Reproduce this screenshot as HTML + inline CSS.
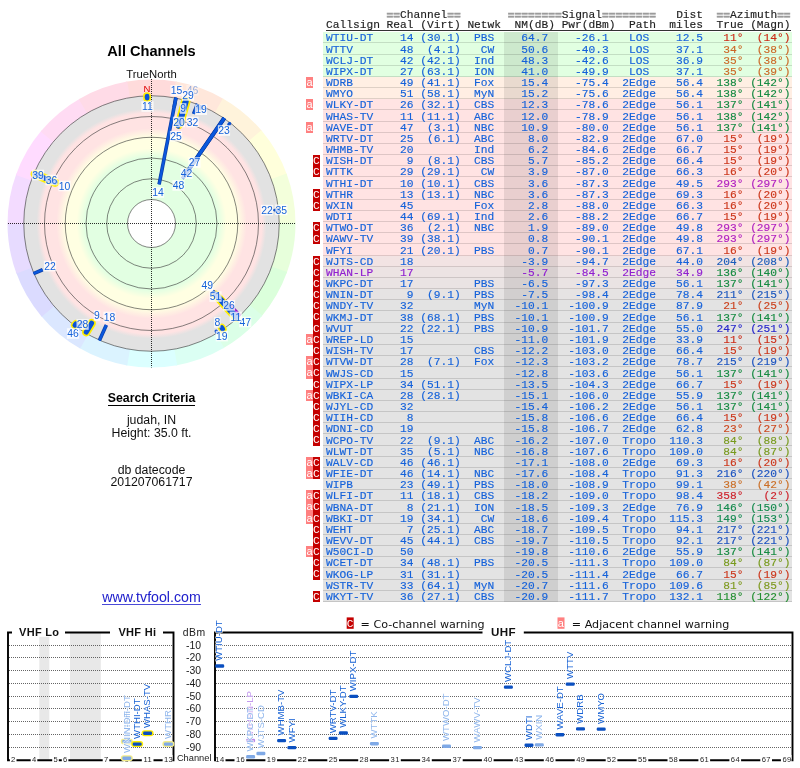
<!DOCTYPE html>
<html lang="en"><head><meta charset="utf-8"><title>TV Fool - All Channels</title>
<style>
html,body{margin:0;padding:0;background:#fff}
body{width:800px;height:768px;position:relative;overflow:hidden;font-family:'Liberation Sans','DejaVu Sans',sans-serif;color:#000}
.abs{position:absolute;white-space:pre;line-height:1}
.c{position:absolute;white-space:pre;line-height:1;text-align:center;left:51.5px;width:200px}
#tbl{position:absolute;left:0;top:0;width:800px;height:610px;font:11.225px/1 'Liberation Mono','DejaVu Sans Mono',monospace;color:#1562da}
#tbl div{position:absolute;white-space:pre;-webkit-text-stroke:0.15px currentColor}
#tbl .r{left:323px;width:469.3px;box-sizing:border-box;border-bottom:1px solid rgba(0,0,0,.13)}
#tbl .t{left:326px;height:12px;line-height:12px}
#tbl .h{left:326px;height:12px;line-height:12px;color:#222}
#tbl .h i{font-style:normal;font-weight:bold;color:#9c9c9c;position:relative;top:1px;-webkit-text-stroke:0.55px #9c9c9c}
#tbl .wa,#tbl .wc{width:6.8px;line-height:12.5px;color:#fff;text-align:center;-webkit-text-stroke:0}
#tbl .wa{left:306.1px;background:#ff8080}
#tbl .wc{left:312.9px;background:#c40000}
#tbl .p{color:#9020d0}
svg{position:absolute;left:0;top:0}
svg text{white-space:pre}
</style></head><body>
<div class="c" style="top:43.5px;font:bold 14.6px/1 'Liberation Sans','DejaVu Sans',sans-serif">All Channels</div>
<div class="c" style="top:69.3px;font:11.3px/1 'Liberation Sans','DejaVu Sans',sans-serif;color:#111">TrueNorth</div>
<div class="c" style="top:392px;font:bold 12.3px/1 'Liberation Sans','DejaVu Sans',sans-serif"><span style="display:inline-block;border-bottom:1.4px solid #000;padding-bottom:1px;line-height:12px">Search Criteria</span></div>
<div class="c" style="top:413.5px;font:12.3px/1 'Liberation Sans','DejaVu Sans',sans-serif;color:#111">judah, IN</div>
<div class="c" style="top:427px;font:12.3px/1 'Liberation Sans','DejaVu Sans',sans-serif;color:#111">Height: 35.0 ft.</div>
<div class="c" style="top:464px;font:12.3px/1 'Liberation Sans','DejaVu Sans',sans-serif;color:#111">db datecode</div>
<div class="c" style="top:476px;font:12.3px/1 'Liberation Sans','DejaVu Sans',sans-serif;color:#111">201207061717</div>
<div class="c" style="top:590px;font:14.2px/1 'Liberation Sans','DejaVu Sans',sans-serif;color:#2020cc"><span style="display:inline-block;border-bottom:1px solid #4a4ad8;padding-bottom:0;line-height:14px">www.tvfool.com</span></div>
<svg width="800" height="768" viewBox="0 0 800 768" font-family="'Liberation Sans','DejaVu Sans',sans-serif">
<defs>
<radialGradient id="zg" gradientUnits="userSpaceOnUse" cx="151.5" cy="223.5" r="127.75">
<stop offset="0.0000" stop-color="#e2ffe2"/>
<stop offset="0.5205" stop-color="#e2ffe2"/>
<stop offset="0.5871" stop-color="#ffffe2"/>
<stop offset="0.6732" stop-color="#ffffe2"/>
<stop offset="0.7452" stop-color="#ffe3e3"/>
<stop offset="0.8642" stop-color="#ffe3e3"/>
<stop offset="0.9002" stop-color="#e2e2e2"/>
<stop offset="1.0000" stop-color="#e2e2e2"/>
</radialGradient>
</defs>
<g id="huering">
<path d="M125.75 81.82A144 144 0 0 1 177.25 81.82L174.16 98.79A126.75 126.75 0 0 0 128.84 98.79Z" fill="#ffdbdb"/>
<path d="M175.76 81.56A144 144 0 0 1 224.15 99.17L215.45 114.06A126.75 126.75 0 0 0 172.86 98.56Z" fill="#ffe7db"/>
<path d="M222.85 98.42A144 144 0 0 1 262.29 131.52L249.02 142.54A126.75 126.75 0 0 0 214.30 113.40Z" fill="#fff3db"/>
<path d="M261.32 130.36A144 144 0 0 1 287.07 174.96L270.83 180.77A126.75 126.75 0 0 0 248.17 141.52Z" fill="#ffffdb"/>
<path d="M286.56 173.54A144 144 0 0 1 295.50 224.25L278.25 224.16A126.75 126.75 0 0 0 270.38 179.53Z" fill="#f3ffdb"/>
<path d="M295.50 222.75A144 144 0 0 1 286.56 273.46L270.38 267.47A126.75 126.75 0 0 0 278.25 222.84Z" fill="#e7ffdb"/>
<path d="M287.07 272.04A144 144 0 0 1 261.32 316.64L248.17 305.48A126.75 126.75 0 0 0 270.83 266.23Z" fill="#dbffdb"/>
<path d="M262.29 315.48A144 144 0 0 1 222.85 348.58L214.30 333.60A126.75 126.75 0 0 0 249.02 304.46Z" fill="#dbffe7"/>
<path d="M224.15 347.83A144 144 0 0 1 175.76 365.44L172.86 348.44A126.75 126.75 0 0 0 215.45 332.94Z" fill="#dbfff3"/>
<path d="M177.25 365.18A144 144 0 0 1 125.75 365.18L128.84 348.21A126.75 126.75 0 0 0 174.16 348.21Z" fill="#dbffff"/>
<path d="M127.24 365.44A144 144 0 0 1 78.85 347.83L87.55 332.94A126.75 126.75 0 0 0 130.14 348.44Z" fill="#dbf3ff"/>
<path d="M80.15 348.58A144 144 0 0 1 40.71 315.48L53.98 304.46A126.75 126.75 0 0 0 88.70 333.60Z" fill="#dbe7ff"/>
<path d="M41.68 316.64A144 144 0 0 1 15.93 272.04L32.17 266.23A126.75 126.75 0 0 0 54.83 305.48Z" fill="#dbdbff"/>
<path d="M16.44 273.46A144 144 0 0 1 7.50 222.75L24.75 222.84A126.75 126.75 0 0 0 32.62 267.47Z" fill="#e7dbff"/>
<path d="M7.50 224.25A144 144 0 0 1 16.44 173.54L32.62 179.53A126.75 126.75 0 0 0 24.75 224.16Z" fill="#f3dbff"/>
<path d="M15.93 174.96A144 144 0 0 1 41.68 130.36L54.83 141.52A126.75 126.75 0 0 0 32.17 180.77Z" fill="#ffdbff"/>
<path d="M40.71 131.52A144 144 0 0 1 80.15 98.42L88.70 113.40A126.75 126.75 0 0 0 53.98 142.54Z" fill="#ffdbf3"/>
<path d="M78.85 99.17A144 144 0 0 1 127.24 81.56L130.14 98.56A126.75 126.75 0 0 0 87.55 114.06Z" fill="#ffdbe7"/>
</g>
<circle cx="151.5" cy="223.5" r="127.75" fill="url(#zg)"/>
<circle cx="151.5" cy="223.5" r="24" fill="#fff"/>
<g fill="none" stroke="#333" stroke-width="0.8" stroke-opacity="0.75">
<circle cx="151.5" cy="223.5" r="24"/>
<circle cx="151.5" cy="223.5" r="44.75"/>
<circle cx="151.5" cy="223.5" r="65.5"/>
<circle cx="151.5" cy="223.5" r="86.25"/>
<circle cx="151.5" cy="223.5" r="107"/>
<circle cx="151.5" cy="223.5" r="127.75"/>
</g>
<g stroke="#000" stroke-opacity=".82" stroke-width="1" stroke-dasharray="1 1" fill="none">
<path d="M8 223.5H296"/>
<path d="M151.5 79V367.5"/>
</g>
<g id="hl" stroke="#ffee00" stroke-linecap="round" fill="none">
<path d="M215.77 294.88L236.31 317.69" stroke-width="8.6"/>
<path d="M178.91 124.64L185.37 101.36" stroke-width="8.6"/>
<path d="M55.06 182.57L34.83 173.97" stroke-width="8.6"/>
<path d="M180.20 122.74L186.22 101.60" stroke-width="8.6"/>
<path d="M91.61 323.17L86.22 332.15" stroke-width="8.6"/>
<path d="M184.88 103.15L185.37 101.36" stroke-width="8.6"/>
<path d="M147.12 98.03L147.06 96.23" stroke-width="7.8"/>
<path d="M221.71 327.59L222.71 329.08" stroke-width="7.8"/>
<path d="M75.94 323.77L74.86 325.21" stroke-width="7.8"/>
</g>
<g id="ln" fill="none">
<g stroke="#0c3ea6" stroke-width="3.6">
<path d="M185.26 103.41L186.18 100.13"/>
<path d="M275.25 210.49L278.95 210.10"/>
<path d="M274.63 210.56L278.95 210.10"/>
<path d="M184.27 104.54L185.53 99.95"/>
<path d="M199.71 109.92L201.57 105.54"/>
<path d="M234.90 313.88L238.41 317.68"/>
<path d="M234.69 313.65L238.41 317.68"/>
<path d="M183.63 106.84L185.53 99.95"/>
<path d="M233.07 311.90L238.41 317.68"/>
<path d="M82.81 321.60L78.00 328.47"/>
<path d="M183.28 108.14L185.53 99.95"/>
<path d="M174.09 107.26L175.95 97.70"/>
<path d="M42.60 269.73L33.54 273.57"/>
<path d="M193.60 113.82L197.42 103.86"/>
<path d="M231.17 309.84L238.41 317.68"/>
<path d="M92.38 321.89L85.50 333.35"/>
<path d="M228.64 307.09L238.41 317.68"/>
<path d="M229.94 304.72L240.52 315.68" stroke="#6a10a8" stroke-width="2.6"/>
<path d="M106.33 324.95L99.38 340.57"/>
<path d="M180.26 121.19L186.18 100.13"/>
<path d="M53.77 182.02L33.54 173.43"/>
<path d="M54.82 182.46L33.54 173.43"/>
<path d="M179.20 122.94L185.53 99.95"/>
<path d="M179.67 123.29L186.18 100.13"/>
<path d="M56.44 183.15L33.54 173.43"/>
<path d="M179.44 124.09L186.18 100.13"/>
<path d="M179.36 124.39L186.18 100.13"/>
<path d="M178.34 126.04L185.53 99.95"/>
<path d="M178.21 126.54L185.53 99.95"/>
<path d="M177.71 128.34L185.53 99.95"/>
<path d="M216.39 293.82L238.41 317.68"/>
<path d="M214.89 293.65L237.42 318.58"/>
<path d="M215.41 292.76L238.41 317.68"/>
<path d="M212.66 291.19L237.42 318.58"/>
<path d="M212.52 291.04L237.42 318.58"/>
<path d="M188.20 170.50L224.45 118.14"/>
<path d="M183.89 176.73L224.45 118.14"/>
<path d="M182.37 178.58L224.08 117.89"/>
<path d="M159.11 184.36L175.95 97.70"/>
</g>
<g stroke="#0a58de" stroke-width="2.2">
<path d="M185.26 103.41L186.18 100.13"/>
<path d="M275.25 210.49L278.95 210.10"/>
<path d="M274.63 210.56L278.95 210.10"/>
<path d="M184.27 104.54L185.53 99.95"/>
<path d="M199.71 109.92L201.57 105.54"/>
<path d="M234.90 313.88L238.41 317.68"/>
<path d="M234.69 313.65L238.41 317.68"/>
<path d="M183.63 106.84L185.53 99.95"/>
<path d="M233.07 311.90L238.41 317.68"/>
<path d="M82.81 321.60L78.00 328.47"/>
<path d="M183.28 108.14L185.53 99.95"/>
<path d="M174.09 107.26L175.95 97.70"/>
<path d="M42.60 269.73L33.54 273.57"/>
<path d="M193.60 113.82L197.42 103.86"/>
<path d="M231.17 309.84L238.41 317.68"/>
<path d="M92.38 321.89L85.50 333.35"/>
<path d="M228.64 307.09L238.41 317.68"/>
<path d="M229.94 304.72L240.52 315.68" stroke="#9a20e0" stroke-width="1.6"/>
<path d="M106.33 324.95L99.38 340.57"/>
<path d="M180.26 121.19L186.18 100.13"/>
<path d="M53.77 182.02L33.54 173.43"/>
<path d="M54.82 182.46L33.54 173.43"/>
<path d="M179.20 122.94L185.53 99.95"/>
<path d="M179.67 123.29L186.18 100.13"/>
<path d="M56.44 183.15L33.54 173.43"/>
<path d="M179.44 124.09L186.18 100.13"/>
<path d="M179.36 124.39L186.18 100.13"/>
<path d="M178.34 126.04L185.53 99.95"/>
<path d="M178.21 126.54L185.53 99.95"/>
<path d="M177.71 128.34L185.53 99.95"/>
<path d="M216.39 293.82L238.41 317.68"/>
<path d="M214.89 293.65L237.42 318.58"/>
<path d="M215.41 292.76L238.41 317.68"/>
<path d="M212.66 291.19L237.42 318.58"/>
<path d="M212.52 291.04L237.42 318.58"/>
<path d="M188.20 170.50L224.45 118.14"/>
<path d="M183.89 176.73L224.45 118.14"/>
<path d="M182.37 178.58L224.08 117.89"/>
<path d="M159.11 184.36L175.95 97.70"/>
</g>
<g stroke="#0a50d0" stroke-width="3.2" stroke-linecap="round">
<path d="M236.64 315.77L237.59 316.80"/>
<path d="M76.29 324.03L75.45 325.15"/>
<path d="M76.29 324.03L75.45 325.15"/>
<path d="M216.16 331.12L216.88 332.32"/>
<path d="M221.71 327.59L222.49 328.75"/>
<path d="M147.12 98.03L147.07 96.63"/>
<path d="M228.80 124.57L229.66 123.46"/>
<path d="M77.00 324.55L76.17 325.68"/>
</g>
<g stroke="#0a52d6" stroke-linecap="round">
<path d="M215.77 294.88L236.31 317.69" stroke-width="5"/>
<path d="M178.91 124.64L185.37 101.36" stroke-width="5"/>
<path d="M55.06 182.57L34.83 173.97" stroke-width="5"/>
<path d="M180.20 122.74L186.22 101.60" stroke-width="5"/>
<path d="M91.61 323.17L86.22 332.15" stroke-width="5"/>
<path d="M184.88 103.15L185.37 101.36" stroke-width="5"/>
<path d="M147.12 98.03L147.06 96.23" stroke-width="4.8"/>
<path d="M221.71 327.59L222.71 329.08" stroke-width="4.8"/>
<path d="M75.94 323.77L74.86 325.21" stroke-width="4.8"/>
</g>
</g>
<g id="lb" font-size="10.4" text-anchor="middle" fill="#1562da" stroke-linejoin="round">
<g><rect x="170.4" y="85.2" width="12.2" height="10.6" fill="#fff" fill-opacity=".76"/>
<text x="176.5" y="94.2">15</text></g>
<g opacity=".45"><rect x="186.4" y="84.9" width="12.2" height="10.6" fill="#fff" fill-opacity=".76"/>
<text x="192.5" y="93.9">46</text></g>
<g><rect x="181.9" y="90.2" width="12.2" height="10.6" fill="#fff" fill-opacity=".76"/>
<text x="188.0" y="99.2">29</text></g>
<g><rect x="194.9" y="104.4" width="12.2" height="10.6" fill="#fff" fill-opacity=".76"/>
<text x="201.0" y="113.4">19</text></g>
<g><rect x="180.0" y="103.2" width="6.4" height="10.6" fill="#fff" fill-opacity=".76"/>
<text x="183.2" y="112.2">9</text></g>
<g><rect x="186.4" y="116.7" width="12.2" height="10.6" fill="#fff" fill-opacity=".76"/>
<text x="192.5" y="125.7">32</text></g>
<g><rect x="172.9" y="116.7" width="12.2" height="10.6" fill="#fff" fill-opacity=".76"/>
<text x="179.0" y="125.7">20</text></g>
<g><rect x="169.9" y="130.9" width="12.2" height="10.6" fill="#fff" fill-opacity=".76"/>
<text x="176.0" y="139.9">25</text></g>
<g><rect x="217.9" y="125.2" width="12.2" height="10.6" fill="#fff" fill-opacity=".76"/>
<text x="224.0" y="134.2">23</text></g>
<g><rect x="188.4" y="157.2" width="12.2" height="10.6" fill="#fff" fill-opacity=".76"/>
<text x="194.5" y="166.2">27</text></g>
<g><rect x="180.4" y="168.2" width="12.2" height="10.6" fill="#fff" fill-opacity=".76"/>
<text x="186.5" y="177.2">42</text></g>
<g><rect x="172.4" y="180.2" width="12.2" height="10.6" fill="#fff" fill-opacity=".76"/>
<text x="178.5" y="189.2">48</text></g>
<g><rect x="151.9" y="187.2" width="12.2" height="10.6" fill="#fff" fill-opacity=".76"/>
<text x="158.0" y="196.2">14</text></g>
<g><rect x="141.4" y="101.2" width="12.2" height="10.6" fill="#fff" fill-opacity=".76"/>
<text x="147.5" y="110.2">11</text></g>
<g><rect x="275.2" y="204.5" width="12.2" height="10.6" fill="#fff" fill-opacity=".76"/>
<text x="281.3" y="213.5">35</text></g>
<g><rect x="260.9" y="204.8" width="12.2" height="10.6" fill="#fff" fill-opacity=".76"/>
<text x="267.0" y="213.8">22</text></g>
<g><rect x="239.1" y="316.7" width="12.2" height="10.6" fill="#fff" fill-opacity=".76"/>
<text x="245.2" y="325.7">47</text></g>
<g><rect x="229.7" y="311.6" width="12.2" height="10.6" fill="#fff" fill-opacity=".76"/>
<text x="235.8" y="320.6">11</text></g>
<g><rect x="222.9" y="300.1" width="12.2" height="10.6" fill="#fff" fill-opacity=".76"/>
<text x="229.0" y="309.1">26</text></g>
<g><rect x="209.4" y="291.3" width="12.2" height="10.6" fill="#fff" fill-opacity=".76"/>
<text x="215.5" y="300.3">51</text></g>
<g><rect x="201.1" y="280.3" width="12.2" height="10.6" fill="#fff" fill-opacity=".76"/>
<text x="207.2" y="289.3">49</text></g>
<g><rect x="215.7" y="330.8" width="12.2" height="10.6" fill="#fff" fill-opacity=".76"/>
<text x="221.8" y="339.8">19</text></g>
<g><rect x="214.1" y="317.1" width="6.4" height="10.6" fill="#fff" fill-opacity=".76"/>
<text x="217.3" y="326.1">8</text></g>
<g><rect x="66.9" y="328.2" width="12.2" height="10.6" fill="#fff" fill-opacity=".76"/>
<text x="73.0" y="337.2">46</text></g>
<g><rect x="76.5" y="319.2" width="12.2" height="10.6" fill="#fff" fill-opacity=".76"/>
<text x="82.6" y="328.2">28</text></g>
<g><rect x="93.8" y="310.2" width="6.4" height="10.6" fill="#fff" fill-opacity=".76"/>
<text x="97.0" y="319.2">9</text></g>
<g><rect x="103.4" y="311.7" width="12.2" height="10.6" fill="#fff" fill-opacity=".76"/>
<text x="109.5" y="320.7">18</text></g>
<g><rect x="43.9" y="260.8" width="12.2" height="10.6" fill="#fff" fill-opacity=".76"/>
<text x="50.0" y="269.8">22</text></g>
<g><rect x="31.9" y="169.7" width="12.2" height="10.6" fill="#fff" fill-opacity=".76"/>
<text x="38.0" y="178.7">39</text></g>
<g><rect x="45.4" y="174.7" width="12.2" height="10.6" fill="#fff" fill-opacity=".76"/>
<text x="51.5" y="183.7">36</text></g>
<g><rect x="58.4" y="180.7" width="12.2" height="10.6" fill="#fff" fill-opacity=".76"/>
<text x="64.5" y="189.7">10</text></g>
</g>
<circle cx="274.2" cy="210.2" r="1.1" fill="#0a50c8"/>
<text x="147" y="92.2" font-size="9.5" text-anchor="middle" fill="#e00000">N</text>
<g id="spec">
<rect x="39.3" y="636.8" width="10" height="123" fill="#e8e8e8"/>
<rect x="70" y="632.7" width="30.8" height="127.2" fill="#e8e8e8"/>
<g stroke="#4a4a4a" stroke-opacity=".85" stroke-width="1" stroke-dasharray="1 1" fill="none">
<path d="M9 645.5H173M216 645.5H792"/>
<path d="M9 657.5H173M216 657.5H792"/>
<path d="M9 670.5H173M216 670.5H792"/>
<path d="M9 683.5H173M216 683.5H792"/>
<path d="M9 696.5H173M216 696.5H792"/>
<path d="M9 708.5H173M216 708.5H792"/>
<path d="M9 721.5H173M216 721.5H792"/>
<path d="M9 734.5H173M216 734.5H792"/>
<path d="M9 747.5H173M216 747.5H792"/>
</g>
<g stroke="#000" stroke-width="1.9" fill="none">
<path d="M12 632.5H8V760.3H173.5V632.5H163"/>
<path d="M65 632.5H110"/>
<path d="M482.5 632.5H215V760.3H792.5V632.5H523.8"/>
</g>
<g fill="#fff">
<rect x="9.9" y="755" width="6.6" height="7" />
<rect x="30.7" y="755" width="6.6" height="7" />
<rect x="52.2" y="755" width="6.6" height="7" />
<rect x="61.8" y="755" width="6.6" height="7" />
<rect x="102.7" y="755" width="6.6" height="7" />
<rect x="123.5" y="755" width="6.6" height="7" />
<rect x="141.8" y="755" width="11.7" height="7" />
<rect x="162.6" y="755" width="9.9" height="7" />
<rect x="216.0" y="755" width="9.5" height="7" />
<rect x="234.5" y="755" width="11.7" height="7" />
<rect x="265.4" y="755" width="11.7" height="7" />
<rect x="296.4" y="755" width="11.7" height="7" />
<rect x="327.3" y="755" width="11.7" height="7" />
<rect x="358.2" y="755" width="11.7" height="7" />
<rect x="389.1" y="755" width="11.7" height="7" />
<rect x="420.1" y="755" width="11.7" height="7" />
<rect x="451.0" y="755" width="11.7" height="7" />
<rect x="481.9" y="755" width="11.7" height="7" />
<rect x="512.9" y="755" width="11.7" height="7" />
<rect x="543.8" y="755" width="11.7" height="7" />
<rect x="574.7" y="755" width="11.7" height="7" />
<rect x="605.7" y="755" width="11.7" height="7" />
<rect x="636.6" y="755" width="11.7" height="7" />
<rect x="667.5" y="755" width="11.7" height="7" />
<rect x="698.4" y="755" width="11.7" height="7" />
<rect x="729.4" y="755" width="11.7" height="7" />
<rect x="760.3" y="755" width="11.7" height="7" />
<rect x="780.9" y="755" width="10.6" height="7" />
</g>
<g font-size="7.6" text-anchor="middle" fill="#222" letter-spacing="0.4">
<text x="13.4" y="762">2</text>
<text x="34.2" y="762">4</text>
<text x="55.7" y="762">5</text>
<text x="65.3" y="762">6</text>
<text x="106.2" y="762">7</text>
<text x="127.0" y="762">9</text>
<text x="147.8" y="762">11</text>
<text x="168.6" y="762">13</text>
<text x="219.9" y="762">14</text>
<text x="240.5" y="762">16</text>
<text x="271.4" y="762">19</text>
<text x="302.4" y="762">22</text>
<text x="333.3" y="762">25</text>
<text x="364.2" y="762">28</text>
<text x="395.2" y="762">31</text>
<text x="426.1" y="762">34</text>
<text x="457.0" y="762">37</text>
<text x="488.0" y="762">40</text>
<text x="518.9" y="762">43</text>
<text x="549.8" y="762">46</text>
<text x="580.8" y="762">49</text>
<text x="611.7" y="762">52</text>
<text x="642.6" y="762">55</text>
<text x="673.5" y="762">58</text>
<text x="704.5" y="762">61</text>
<text x="735.4" y="762">64</text>
<text x="766.3" y="762">67</text>
<text x="787.0" y="762">69</text>
</g>
<g font-size="10.4" text-anchor="middle" fill="#1a1a1a">
<text x="194.2" y="635.6" letter-spacing="0.5">dBm</text>
<text x="193.6" y="648.5">-10</text>
<text x="193.6" y="661.2">-20</text>
<text x="193.6" y="674.0">-30</text>
<text x="193.6" y="686.8">-40</text>
<text x="193.6" y="699.5">-50</text>
<text x="193.6" y="712.2">-60</text>
<text x="193.6" y="725.0">-70</text>
<text x="193.6" y="737.8">-80</text>
<text x="193.6" y="750.5">-90</text>
<text x="194.2" y="761.3" font-size="9.3">Channel</text>
</g>
<g font-size="11" font-weight="bold" text-anchor="middle" fill="#111" letter-spacing="0.3">
<text x="39.2" y="636.3">VHF Lo</text>
<text x="137.4" y="636.3">VHF Hi</text>
<text x="503.4" y="636.3" font-size="11.6">UHF</text>
</g>
<rect x="246.1" y="738.8" width="9" height="3.4" rx="1.3" fill="#b98ae8"/>
<text transform="translate(253.3 735.3) rotate(-90)" font-size="9.6" fill="#c39aee" stroke="#fff" stroke-width="1.6" stroke-opacity=".7" paint-order="stroke" stroke-linejoin="round">WHAN-LP</text>
<rect x="215.2" y="664.3" width="9" height="3.4" rx="1.3" fill="#0a4fc0"/>
<text transform="translate(222.4 660.8) rotate(-90)" font-size="9.6" fill="#1560d4" stroke="#fff" stroke-width="1.6" stroke-opacity=".7" paint-order="stroke" stroke-linejoin="round">WTIU-DT</text>
<rect x="565.7" y="682.4" width="9" height="3.4" rx="1.3" fill="#0a4fc0"/>
<text transform="translate(572.9 678.9) rotate(-90)" font-size="9.6" fill="#1560d4" stroke="#fff" stroke-width="1.6" stroke-opacity=".7" paint-order="stroke" stroke-linejoin="round">WTTV</text>
<rect x="503.9" y="685.4" width="9" height="3.4" rx="1.3" fill="#0a4fc0"/>
<text transform="translate(511.1 681.9) rotate(-90)" font-size="9.6" fill="#1560d4" stroke="#fff" stroke-width="1.6" stroke-opacity=".7" paint-order="stroke" stroke-linejoin="round">WCLJ-DT</text>
<rect x="349.2" y="694.7" width="9" height="3.4" rx="1.3" fill="#0a4fc0"/>
<text transform="translate(356.4 691.2) rotate(-90)" font-size="9.6" fill="#1560d4" stroke="#fff" stroke-width="1.6" stroke-opacity=".7" paint-order="stroke" stroke-linejoin="round">WIPX-DT</text>
<rect x="576.0" y="727.2" width="9" height="3.4" rx="1.3" fill="#0a4fc0"/>
<text transform="translate(583.2 723.7) rotate(-90)" font-size="9.6" fill="#1560d4" stroke="#fff" stroke-width="1.6" stroke-opacity=".7" paint-order="stroke" stroke-linejoin="round">WDRB</text>
<rect x="596.7" y="727.4" width="9" height="3.4" rx="1.3" fill="#0a4fc0"/>
<text transform="translate(603.9 723.9) rotate(-90)" font-size="9.6" fill="#1560d4" stroke="#fff" stroke-width="1.6" stroke-opacity=".7" paint-order="stroke" stroke-linejoin="round">WMYO</text>
<rect x="338.9" y="731.3" width="9" height="3.4" rx="1.3" fill="#0a4fc0"/>
<text transform="translate(346.1 727.8) rotate(-90)" font-size="9.6" fill="#1560d4" stroke="#fff" stroke-width="1.6" stroke-opacity=".7" paint-order="stroke" stroke-linejoin="round">WLKY-DT</text>
<rect x="141.6" y="730.3" width="12" height="6" rx="3" fill="#ffee00"/>
<rect x="143.1" y="731.6" width="9" height="3.4" rx="1.3" fill="#0a4fc0"/>
<text transform="translate(150.3 728.1) rotate(-90)" font-size="9.6" fill="#1560d4" stroke="#fff" stroke-width="1.6" stroke-opacity=".7" paint-order="stroke" stroke-linejoin="round">WHAS-TV</text>
<rect x="555.4" y="733.0" width="9" height="3.4" rx="1.3" fill="#0a4fc0"/>
<text transform="translate(562.6 729.5) rotate(-90)" font-size="9.6" fill="#1560d4" stroke="#fff" stroke-width="1.6" stroke-opacity=".7" paint-order="stroke" stroke-linejoin="round">WAVE-DT</text>
<rect x="328.6" y="736.7" width="9" height="3.4" rx="1.3" fill="#0a4fc0"/>
<text transform="translate(335.8 733.2) rotate(-90)" font-size="9.6" fill="#1560d4" stroke="#fff" stroke-width="1.6" stroke-opacity=".7" paint-order="stroke" stroke-linejoin="round">WRTV-DT</text>
<rect x="277.1" y="738.9" width="9" height="3.4" rx="1.3" fill="#0a4fc0"/>
<text transform="translate(284.3 735.4) rotate(-90)" font-size="9.6" fill="#1560d4" stroke="#fff" stroke-width="1.6" stroke-opacity=".7" paint-order="stroke" stroke-linejoin="round">WHMB-TV</text>
<rect x="120.8" y="738.4" width="12" height="6" rx="3" fill="#f3ec8a"/>
<rect x="122.3" y="739.7" width="9" height="3.4" rx="1.3" fill="#7fa9e6"/>
<text transform="translate(129.5 736.2) rotate(-90)" font-size="9.6" fill="#8fb6ec" stroke="#fff" stroke-width="1.6" stroke-opacity=".7" paint-order="stroke" stroke-linejoin="round">WISH-DT</text>
<rect x="369.9" y="742.0" width="9" height="3.4" rx="1.3" fill="#7fa9e6"/>
<text transform="translate(377.1 738.5) rotate(-90)" font-size="9.6" fill="#8fb6ec" stroke="#fff" stroke-width="1.6" stroke-opacity=".7" paint-order="stroke" stroke-linejoin="round">WTTK</text>
<rect x="131.2" y="741.1" width="12" height="6" rx="3" fill="#ffee00"/>
<rect x="132.7" y="742.4" width="9" height="3.4" rx="1.3" fill="#0a4fc0"/>
<text transform="translate(139.9 738.9) rotate(-90)" font-size="9.6" fill="#1560d4" stroke="#fff" stroke-width="1.6" stroke-opacity=".7" paint-order="stroke" stroke-linejoin="round">WTHI-DT</text>
<rect x="162.4" y="741.1" width="12" height="6" rx="3" fill="#f3ec8a"/>
<rect x="163.9" y="742.4" width="9" height="3.4" rx="1.3" fill="#7fa9e6"/>
<text transform="translate(171.1 738.9) rotate(-90)" font-size="9.6" fill="#8fb6ec" stroke="#fff" stroke-width="1.6" stroke-opacity=".7" paint-order="stroke" stroke-linejoin="round">WTHR</text>
<rect x="534.8" y="743.2" width="9" height="3.4" rx="1.3" fill="#7fa9e6"/>
<text transform="translate(542.0 739.8) rotate(-90)" font-size="9.6" fill="#8fb6ec" stroke="#fff" stroke-width="1.6" stroke-opacity=".7" paint-order="stroke" stroke-linejoin="round">WXIN</text>
<rect x="524.5" y="743.5" width="9" height="3.4" rx="1.3" fill="#0a4fc0"/>
<text transform="translate(531.7 740.0) rotate(-90)" font-size="9.6" fill="#1560d4" stroke="#fff" stroke-width="1.6" stroke-opacity=".7" paint-order="stroke" stroke-linejoin="round">WDTI</text>
<rect x="442.0" y="744.5" width="9" height="3.4" rx="1.3" fill="#7fa9e6"/>
<text transform="translate(449.2 741.0) rotate(-90)" font-size="9.6" fill="#8fb6ec" stroke="#fff" stroke-width="1.6" stroke-opacity=".7" paint-order="stroke" stroke-linejoin="round">WTWO-DT</text>
<rect x="472.9" y="745.9" width="9" height="3.4" rx="1.3" fill="#7fa9e6"/>
<text transform="translate(480.1 742.4) rotate(-90)" font-size="9.6" fill="#8fb6ec" stroke="#fff" stroke-width="1.6" stroke-opacity=".7" paint-order="stroke" stroke-linejoin="round">WAWV-TV</text>
<rect x="287.4" y="745.9" width="9" height="3.4" rx="1.3" fill="#0a4fc0"/>
<text transform="translate(294.6 742.4) rotate(-90)" font-size="9.6" fill="#1560d4" stroke="#fff" stroke-width="1.6" stroke-opacity=".7" paint-order="stroke" stroke-linejoin="round">WFYI</text>
<rect x="256.4" y="751.8" width="9" height="3.4" rx="1.3" fill="#7fa9e6"/>
<text transform="translate(263.6 748.3) rotate(-90)" font-size="9.6" fill="#8fb6ec" stroke="#fff" stroke-width="1.6" stroke-opacity=".7" paint-order="stroke" stroke-linejoin="round">WJTS-CD</text>
<rect x="246.1" y="755.1" width="9" height="3.4" rx="1.3" fill="#7fa9e6"/>
<text transform="translate(253.3 751.6) rotate(-90)" font-size="9.6" fill="#8fb6ec" stroke="#fff" stroke-width="1.6" stroke-opacity=".7" paint-order="stroke" stroke-linejoin="round">WKPC-DT</text>
<rect x="120.8" y="755.2" width="12" height="6" rx="3" fill="#f3ec8a"/>
<rect x="122.3" y="756.5" width="9" height="3.4" rx="1.3" fill="#7fa9e6"/>
<text transform="translate(129.5 753.0) rotate(-90)" font-size="9.6" fill="#8fb6ec" stroke="#fff" stroke-width="1.6" stroke-opacity=".7" paint-order="stroke" stroke-linejoin="round">WNIN-DT</text>
</g>
<rect x="346.7" y="617.4" width="7" height="11.4" fill="#c40000"/>
<rect x="557.5" y="617.4" width="7" height="11.4" fill="#ff8080"/>
<g font-family="Liberation Mono,DejaVu Sans Mono,monospace" font-size="11.25" fill="#fff" text-anchor="middle"><text x="350.2" y="626.6">C</text><text x="561" y="626.6">a</text></g>
<g font-family="DejaVu Sans,Liberation Sans,sans-serif" font-size="11.15" fill="#111"><text x="360.6" y="627.6">= Co-channel warning</text><text x="571.8" y="627.6">= Adjacent channel warning</text></g>
</svg>
<div id="tbl">
<div class="h" style="top:9px">         <i>==</i>Channel<i>==</i>       <i>========</i>Signal<i>========</i>   Dist  <i>==</i>Azimuth<i>==</i></div>
<div class="h" style="top:19px">Callsign Real (Virt) Netwk  NM(dB) Pwr(dBm)  Path  miles  True (Magn)</div>
<div style="left:326px;top:30px;width:465px;height:1px;background:#333"></div>
<div class="r" style="top:32px;height:11px;background:#e1ffe1"></div>
<div class="r" style="top:43px;height:12px;background:#e1ffe1"></div>
<div class="r" style="top:55px;height:11px;background:#e1ffe1"></div>
<div class="r" style="top:66px;height:11px;background:#e1ffe1"></div>
<div class="r" style="top:77px;height:11px;background:#ffefe3"></div>
<div class="r" style="top:88px;height:11px;background:#ffeee3"></div>
<div class="r" style="top:99px;height:11px;background:#ffe4e3"></div>
<div class="r" style="top:110px;height:12px;background:#ffe3e3"></div>
<div class="r" style="top:122px;height:11px;background:#ffe3e3"></div>
<div class="r" style="top:133px;height:11px;background:#ffe3e3"></div>
<div class="r" style="top:144px;height:11px;background:#ffe3e3"></div>
<div class="r" style="top:155px;height:11px;background:#ffe3e3"></div>
<div class="r" style="top:166px;height:11px;background:#ffe3e3"></div>
<div class="r" style="top:177px;height:12px;background:#ffe3e3"></div>
<div class="r" style="top:189px;height:11px;background:#ffe3e3"></div>
<div class="r" style="top:200px;height:11px;background:#ffe3e3"></div>
<div class="r" style="top:211px;height:11px;background:#ffe3e3"></div>
<div class="r" style="top:222px;height:11px;background:#ffe3e3"></div>
<div class="r" style="top:233px;height:11px;background:#ffe3e3"></div>
<div class="r" style="top:244px;height:12px;background:#ffe3e3"></div>
<div class="r" style="top:256px;height:11px;background:#f2e3e3"></div>
<div class="r" style="top:267px;height:11px;background:#ece3e3"></div>
<div class="r" style="top:278px;height:11px;background:#eae3e3"></div>
<div class="r" style="top:289px;height:11px;background:#e6e3e3"></div>
<div class="r" style="top:300px;height:11px;background:#e3e3e3"></div>
<div class="r" style="top:311px;height:12px;background:#e3e3e3"></div>
<div class="r" style="top:323px;height:11px;background:#e3e3e3"></div>
<div class="r" style="top:334px;height:11px;background:#e3e3e3"></div>
<div class="r" style="top:345px;height:11px;background:#e3e3e3"></div>
<div class="r" style="top:356px;height:11px;background:#e3e3e3"></div>
<div class="r" style="top:367px;height:12px;background:#e3e3e3"></div>
<div class="r" style="top:379px;height:11px;background:#e3e3e3"></div>
<div class="r" style="top:390px;height:11px;background:#e3e3e3"></div>
<div class="r" style="top:401px;height:11px;background:#e3e3e3"></div>
<div class="r" style="top:412px;height:11px;background:#e3e3e3"></div>
<div class="r" style="top:423px;height:11px;background:#e3e3e3"></div>
<div class="r" style="top:434px;height:12px;background:#e3e3e3"></div>
<div class="r" style="top:446px;height:11px;background:#e3e3e3"></div>
<div class="r" style="top:457px;height:11px;background:#e3e3e3"></div>
<div class="r" style="top:468px;height:11px;background:#e3e3e3"></div>
<div class="r" style="top:479px;height:11px;background:#e3e3e3"></div>
<div class="r" style="top:490px;height:11px;background:#e3e3e3"></div>
<div class="r" style="top:501px;height:12px;background:#e3e3e3"></div>
<div class="r" style="top:513px;height:11px;background:#e3e3e3"></div>
<div class="r" style="top:524px;height:11px;background:#e3e3e3"></div>
<div class="r" style="top:535px;height:11px;background:#e3e3e3"></div>
<div class="r" style="top:546px;height:11px;background:#e3e3e3"></div>
<div class="r" style="top:557px;height:11px;background:#e3e3e3"></div>
<div class="r" style="top:568px;height:12px;background:#e3e3e3"></div>
<div class="r" style="top:580px;height:11px;background:#e3e3e3"></div>
<div class="r" style="top:591px;height:11px;background:#e3e3e3"></div>
<div style="left:504px;top:32px;width:54px;height:570px;background:rgba(0,0,0,.085)"></div>
<div class="t" style="top:32px">WTIU-DT    14 (30.1)  PBS    64.7    -26.1   LOS    12.5<span style="color:#cc2c18">   11°  (14°)</span></div>
<div class="t" style="top:44px">WTTV       48  (4.1)   CW    50.6    -40.3   LOS    37.1<span style="color:#cc6727">   34°  (38°)</span></div>
<div class="t" style="top:55px">WCLJ-DT    42 (42.1)  Ind    48.3    -42.6   LOS    36.9<span style="color:#cc6a28">   35°  (38°)</span></div>
<div class="t" style="top:66px">WIPX-DT    27 (63.1)  ION    41.0    -49.9   LOS    37.1<span style="color:#cc6a28">   35°  (39°)</span></div>
<div class="t" style="top:77px">WDRB       49 (41.1)  Fox    15.4    -75.4  2Edge   56.4<span style="color:#148a42">  138° (142°)</span></div>
<div class="wa" style="top:77px;height:11px">a</div>
<div class="t" style="top:88px">WMYO       51 (58.1)  MyN    15.2    -75.6  2Edge   56.4<span style="color:#148a42">  138° (142°)</span></div>
<div class="t" style="top:99px">WLKY-DT    26 (32.1)  CBS    12.3    -78.6  2Edge   56.1<span style="color:#158a41">  137° (141°)</span></div>
<div class="wa" style="top:99px;height:11px">a</div>
<div class="t" style="top:111px">WHAS-TV    11 (11.1)  ABC    12.0    -78.9  2Edge   56.1<span style="color:#148a42">  138° (142°)</span></div>
<div class="t" style="top:122px">WAVE-DT    47  (3.1)  NBC    10.9    -80.0  2Edge   56.1<span style="color:#158a41">  137° (141°)</span></div>
<div class="wa" style="top:122px;height:11px">a</div>
<div class="t" style="top:133px">WRTV-DT    25  (6.1)  ABC     8.0    -82.9  2Edge   67.0<span style="color:#cc351a">   15°  (19°)</span></div>
<div class="t" style="top:144px">WHMB-TV    20         Ind     6.2    -84.6  2Edge   66.7<span style="color:#cc351a">   15°  (19°)</span></div>
<div class="t" style="top:155px">WISH-DT     9  (8.1)  CBS     5.7    -85.2  2Edge   66.4<span style="color:#cc351a">   15°  (19°)</span></div>
<div class="wc" style="top:155px;height:11px">C</div>
<div class="t" style="top:166px">WTTK       29 (29.1)   CW     3.9    -87.0  2Edge   66.3<span style="color:#cc371b">   16°  (20°)</span></div>
<div class="wc" style="top:166px;height:11px">C</div>
<div class="t" style="top:178px">WTHI-DT    10 (10.1)  CBS     3.6    -87.3  2Edge   49.5<span style="color:#b020c0">  293° (297°)</span></div>
<div class="t" style="top:189px">WTHR       13 (13.1)  NBC     3.6    -87.3  2Edge   69.3<span style="color:#cc371b">   16°  (20°)</span></div>
<div class="wc" style="top:189px;height:11px">C</div>
<div class="t" style="top:200px">WXIN       45         Fox     2.8    -88.0  2Edge   66.3<span style="color:#cc371b">   16°  (20°)</span></div>
<div class="wc" style="top:200px;height:11px">C</div>
<div class="t" style="top:211px">WDTI       44 (69.1)  Ind     2.6    -88.2  2Edge   66.7<span style="color:#cc351a">   15°  (19°)</span></div>
<div class="t" style="top:222px">WTWO-DT    36  (2.1)  NBC     1.9    -89.0  2Edge   49.8<span style="color:#b020c0">  293° (297°)</span></div>
<div class="wc" style="top:222px;height:11px">C</div>
<div class="t" style="top:233px">WAWV-TV    39 (38.1)          0.8    -90.1  2Edge   49.8<span style="color:#b020c0">  293° (297°)</span></div>
<div class="wc" style="top:233px;height:11px">C</div>
<div class="t" style="top:245px">WFYI       21 (20.1)  PBS     0.7    -90.1  2Edge   67.1<span style="color:#cc371b">   16°  (19°)</span></div>
<div class="t" style="top:256px">WJTS-CD    18                -3.9    -94.7  2Edge   44.0<span style="color:#1a5cba">  204° (208°)</span></div>
<div class="wc" style="top:256px;height:11px">C</div>
<div class="t p" style="top:267px">WHAN-LP    17                -5.7    -84.5  2Edge   34.9<span style="color:#158a40">  136° (140°)</span></div>
<div class="wc" style="top:267px;height:11px">C</div>
<div class="t" style="top:278px">WKPC-DT    17         PBS    -6.5    -97.3  2Edge   56.1<span style="color:#158a41">  137° (141°)</span></div>
<div class="wc" style="top:278px;height:11px">C</div>
<div class="t" style="top:289px">WNIN-DT     9  (9.1)  PBS    -7.5    -98.4  2Edge   78.4<span style="color:#1a56be">  211° (215°)</span></div>
<div class="wc" style="top:289px;height:11px">C</div>
<div class="t" style="top:300px">WNDY-TV    32         MyN   -10.1   -100.9  2Edge   87.9<span style="color:#cc421e">   21°  (25°)</span></div>
<div class="wc" style="top:300px;height:11px">C</div>
<div class="t" style="top:312px">WKMJ-DT    38 (68.1)  PBS   -10.1   -100.9  2Edge   56.1<span style="color:#158a41">  137° (141°)</span></div>
<div class="wc" style="top:311px;height:12px">C</div>
<div class="t" style="top:323px">WVUT       22 (22.1)  PBS   -10.9   -101.7  2Edge   55.0<span style="color:#2424cc">  247° (251°)</span></div>
<div class="wc" style="top:323px;height:11px">C</div>
<div class="t" style="top:334px">WREP-LD    15               -11.0   -101.9  2Edge   33.9<span style="color:#cc2c18">   11°  (15°)</span></div>
<div class="wa" style="top:334px;height:11px">a</div>
<div class="wc" style="top:334px;height:11px">C</div>
<div class="t" style="top:345px">WISH-TV    17         CBS   -12.2   -103.0  2Edge   66.4<span style="color:#cc351a">   15°  (19°)</span></div>
<div class="wc" style="top:345px;height:11px">C</div>
<div class="t" style="top:356px">WTVW-DT    28  (7.1)  Fox   -12.3   -103.2  2Edge   78.7<span style="color:#1a53c0">  215° (219°)</span></div>
<div class="wa" style="top:356px;height:11px">a</div>
<div class="wc" style="top:356px;height:11px">C</div>
<div class="t" style="top:368px">WWJS-CD    15               -12.8   -103.6  2Edge   56.1<span style="color:#158a41">  137° (141°)</span></div>
<div class="wa" style="top:367px;height:12px">a</div>
<div class="wc" style="top:367px;height:12px">C</div>
<div class="t" style="top:379px">WIPX-LP    34 (51.1)        -13.5   -104.3  2Edge   66.7<span style="color:#cc351a">   15°  (19°)</span></div>
<div class="wc" style="top:379px;height:11px">C</div>
<div class="t" style="top:390px">WBKI-CA    28 (28.1)        -15.1   -106.0  2Edge   55.9<span style="color:#158a41">  137° (141°)</span></div>
<div class="wa" style="top:390px;height:11px">a</div>
<div class="wc" style="top:390px;height:11px">C</div>
<div class="t" style="top:401px">WJYL-CD    32               -15.4   -106.2  2Edge   56.1<span style="color:#158a41">  137° (141°)</span></div>
<div class="wc" style="top:401px;height:11px">C</div>
<div class="t" style="top:412px">WIIH-CD     8               -15.8   -106.6  2Edge   66.4<span style="color:#cc351a">   15°  (19°)</span></div>
<div class="wc" style="top:412px;height:11px">C</div>
<div class="t" style="top:423px">WDNI-CD    19               -15.8   -106.7  2Edge   62.8<span style="color:#cc481f">   23°  (27°)</span></div>
<div class="wc" style="top:423px;height:11px">C</div>
<div class="t" style="top:435px">WCPO-TV    22  (9.1)  ABC   -16.2   -107.0  Tropo  110.3<span style="color:#789a1e">   84°  (88°)</span></div>
<div class="wc" style="top:434px;height:12px">C</div>
<div class="t" style="top:446px">WLWT-DT    35  (5.1)  NBC   -16.8   -107.6  Tropo  109.0<span style="color:#789a1e">   84°  (87°)</span></div>
<div class="t" style="top:457px">WALV-CD    46 (46.1)        -17.1   -108.0  2Edge   69.3<span style="color:#cc371b">   16°  (20°)</span></div>
<div class="wa" style="top:457px;height:11px">a</div>
<div class="wc" style="top:457px;height:11px">C</div>
<div class="t" style="top:468px">WFIE-DT    46 (14.1)  NBC   -17.6   -108.4  Tropo   91.3<span style="color:#1a52c0">  216° (220°)</span></div>
<div class="wa" style="top:468px;height:11px">a</div>
<div class="wc" style="top:468px;height:11px">C</div>
<div class="t" style="top:479px">WIPB       23 (49.1)  PBS   -18.0   -108.9  Tropo   99.1<span style="color:#cb6f27">   38°  (42°)</span></div>
<div class="t" style="top:490px">WLFI-DT    11 (18.1)  CBS   -18.2   -109.0  Tropo   98.4<span style="color:#ce222b">  358°   (2°)</span></div>
<div class="wa" style="top:490px;height:11px">a</div>
<div class="wc" style="top:490px;height:11px">C</div>
<div class="t" style="top:502px">WBNA-DT     8 (21.1)  ION   -18.5   -109.3  2Edge   76.9<span style="color:#148a4e">  146° (150°)</span></div>
<div class="wa" style="top:501px;height:12px">a</div>
<div class="wc" style="top:501px;height:12px">C</div>
<div class="t" style="top:513px">WBKI-DT    19 (34.1)   CW   -18.6   -109.4  Tropo  115.3<span style="color:#148a52">  149° (153°)</span></div>
<div class="wa" style="top:513px;height:11px">a</div>
<div class="wc" style="top:513px;height:11px">C</div>
<div class="t" style="top:524px">WEHT        7 (25.1)  ABC   -18.7   -109.5  Tropo   94.1<span style="color:#1a51c0">  217° (221°)</span></div>
<div class="wc" style="top:524px;height:11px">C</div>
<div class="t" style="top:535px">WEVV-DT    45 (44.1)  CBS   -19.7   -110.5  Tropo   92.1<span style="color:#1a51c0">  217° (221°)</span></div>
<div class="wc" style="top:535px;height:11px">C</div>
<div class="t" style="top:546px">W50CI-D    50               -19.8   -110.6  2Edge   55.9<span style="color:#158a41">  137° (141°)</span></div>
<div class="wa" style="top:546px;height:11px">a</div>
<div class="wc" style="top:546px;height:11px">C</div>
<div class="t" style="top:557px">WCET-DT    34 (48.1)  PBS   -20.5   -111.3  Tropo  109.0<span style="color:#789a1e">   84°  (87°)</span></div>
<div class="wc" style="top:557px;height:11px">C</div>
<div class="t" style="top:569px">WKOG-LP    31 (31.1)        -20.5   -111.4  2Edge   66.7<span style="color:#cc351a">   15°  (19°)</span></div>
<div class="wc" style="top:568px;height:12px">C</div>
<div class="t" style="top:580px">WSTR-TV    33 (64.1)  MyN   -20.7   -111.6  Tropo  109.6<span style="color:#7e991e">   81°  (85°)</span></div>
<div class="t" style="top:591px">WKYT-TV    36 (27.1)  CBS   -20.9   -111.7  Tropo  132.1<span style="color:#228e30">  118° (122°)</span></div>
<div class="wc" style="top:591px;height:11px">C</div>
</div>
</body></html>
